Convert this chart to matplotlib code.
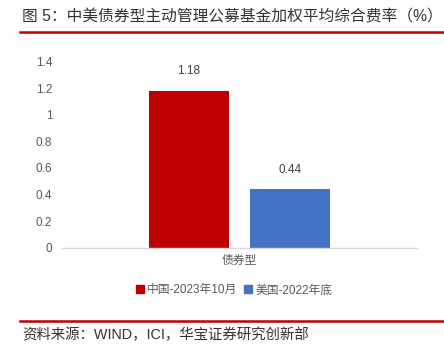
import matplotlib.pyplot as plt
from matplotlib.lines import Line2D

plt.rcParams['font.family'] = ['Liberation Sans', 'Noto Sans CJK SC']

category = '债券型'
series_names = ['中国-2023年10月', '美国-2022年底']
values = [1.18, 0.44]
colors = ['#C00000', '#4472C4']
yticks = [0, 0.2, 0.4, 0.6, 0.8, 1, 1.2, 1.4]
ytick_labels = ['0', '0.2', '0.4', '0.6', '0.8', '1', '1.2', '1.4']

title = '图 5：中美债券型主动管理公募基金加权平均综合费率（%）'
source = '资料来源：WIND，ICI，华宝证券研究创新部'

fig = plt.figure(figsize=[4.44, 3.52], dpi=100, facecolor='white')
ax = fig.add_axes([0.1396, 0.2963, 0.7996, 0.5293])

width = 0.2254
offsets = [-0.1427, 0.1427]
for name, v, c, off in zip(series_names, values, colors, offsets):
    ax.bar(0.5 + off, v, width=width, color=c, label=name)
    ax.text(0.5 + off, v + 0.1, f'{v:.2f}', ha='center', va='bottom',
            fontsize=8.5, color='#404040')

ax.set_xlim(0, 1)
ax.set_ylim(0, 1.4)
ax.set_yticks(yticks)
ax.set_yticklabels(ytick_labels, fontsize=8.5, color='#595959')
ax.set_xticks([0.5])
ax.set_xticklabels([category], fontsize=8.5, color='#595959')
ax.tick_params(axis='y', length=0, pad=7)
ax.tick_params(axis='x', length=0, pad=5)
for s in ['top', 'right', 'left']:
    ax.spines[s].set_visible(False)
ax.spines['bottom'].set_color('#D9D9D9')
ax.spines['bottom'].set_linewidth(1)

handles = [Line2D([], [], marker='s', linestyle='none', markersize=6,
                  markerfacecolor=c, markeredgecolor=c) for c in colors]
fig.legend(handles, series_names, loc='center', bbox_to_anchor=(0.525, 0.175),
           ncol=2, frameon=False, fontsize=8.5, labelcolor='#595959',
           handletextpad=0.1, columnspacing=0.4, handlelength=1)

fig.text(0.05, 0.951, title, fontsize=11.3, color='#333333', va='center', ha='left',
         fontweight='light')
fig.add_artist(Line2D([0.045, 1.0], [0.909, 0.909], color='#C00000', linewidth=1.8))
fig.add_artist(Line2D([0.045, 1.0], [0.088, 0.088], color='#C00000', linewidth=1.8))
fig.text(0.05, 0.048, source, fontsize=10.4, color='#333333', va='center', ha='left',
         fontweight='light')

plt.savefig('out.png', dpi=100)
